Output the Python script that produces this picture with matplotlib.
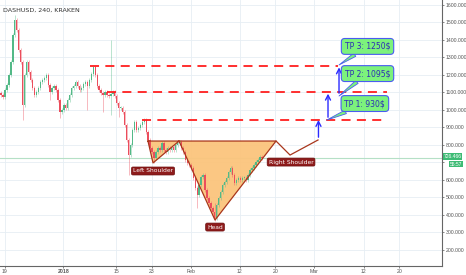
import numpy as np
import matplotlib
matplotlib.use("Agg")
import matplotlib.pyplot as plt

# closes (4h-ish candles, compressed), oldest first
closes = [
    1085, 1073, 1113, 1142, 1199, 1273, 1427, 1513, 1456, 1342, 1273, 1028, 1199, 1273,
    1216, 1170, 1125, 1085, 1102, 1125, 1159, 1170, 1182, 1199, 1142, 1102, 1125, 1136,
    1113, 1056, 988, 999, 1028, 1011, 1056, 1085, 1125, 1136, 1159, 1136, 1113, 1125,
    1148, 1159, 1136, 1170, 1205, 1245, 1199, 1136, 1113, 1096, 1085, 1102, 1085, 1079,
    1090, 1102, 1079, 1039, 1011, 1011, 988, 914, 828, 742, 799, 885, 931, 885,
    896, 914, 931, 942, 874, 828, 782, 759, 725, 759, 782, 771, 811, 771,
    759, 782, 771, 788, 771, 799, 811, 816, 782, 759, 714, 697, 685, 668,
    611, 554, 514, 571, 617, 628, 542, 497, 468, 440, 417, 383, 457, 497,
    531, 571, 588, 611, 645, 668, 628, 582, 600, 611, 600, 611, 611, 600,
    628, 657, 668, 685, 702, 714, 731, 726,
]
first_open = 1095
# notable wick extremes: index -> (low, high)
wick_extremes = {
    7: (1420, 1541), 11: (942, 1280), 25: (1056, 1150), 30: (953, 1060),
    44: (999, 1165), 52: (988, 1100), 56: (971, 1399), 60: (959, 1045),
    65: (628, 830), 78: (697, 765), 100: (440, 560), 109: (366, 470),
}
last_price = 726.466
countdown = "55:57"

# x axis: days relative to Feb 1 (bar-compressed like the source)
tick_days = [-42.1, -28.8, -16.8, -8.8, 0, 11.15, 19.15, 27.9, 39.15, 47.2]
tick_labels = ["19", "2018", "15", "23", "Feb", "12", "20", "Mar", "12", "20"]
price_ticks = list(range(200, 1700, 100))

# targets
tp_levels = [942, 1100, 1252]
tp_starts = [-11.0, -18.9, -22.8]
tp_ends = [43.5, 44.4, 33.3]
tp_texts = ["TP 1: 930$", "TP 2: 1095$", "TP 3: 1250$"]

# inverse head & shoulders drawing
hs_days = [-9.67, -8.53, -2.65, 5.5, 19.3]
hs_prices = [822, 697, 822, 371, 822]
rs_days = [19.3, 22.47, 28.8]
rs_prices = [822, 742, 828]

UP, DOWN = "#53b987", "#eb4d5c"
AXFONT = "Liberation Sans"

fig = plt.figure(figsize=(4.66, 2.75), dpi=100)
ax = fig.add_axes([0, 9 / 275, 442 / 466, 266 / 275])

n = len(closes)
xs = np.linspace(-42.9, 16.1, n)
opens = [first_open] + closes[:-1]
for i, (x, o, c) in enumerate(zip(xs, opens, closes)):
    col = UP if c >= o else DOWN
    lo, hi = min(o, c) - 10, max(o, c) + 10
    if i in wick_extremes:
        lo, hi = min(lo, wick_extremes[i][0]), max(hi, wick_extremes[i][1])
    ax.vlines(x, lo, hi, color=col, lw=0.5, alpha=0.55, zorder=3)
    ax.bar(x, max(abs(c - o), 3), bottom=min(o, c), width=0.3, color=col,
           lw=0, zorder=4)

ax.axhline(last_price, color="#b5e0c6", lw=0.8, zorder=1)

# head & shoulders
ax.fill(hs_days, hs_prices, color="#fbc47c", alpha=0.95, zorder=2, lw=0)
ax.plot(hs_days + [hs_days[0]], hs_prices + [hs_prices[0]], color="#a8361c",
        lw=0.9, zorder=5)
ax.plot(rs_days, rs_prices, color="#a8361c", lw=0.9, zorder=5)

lab = dict(color="white", fontsize=4.3, ha="center", va="center", zorder=8,
           bbox=dict(boxstyle="round,pad=0.25", fc="#8e1b1b", ec="#6d0f0f", lw=0.5))
ax.text(-8.53, 651, "Left Shoulder", **lab)
ax.text(5.5, 331, "Head", **lab)
ax.text(22.7, 702, "Right Shoulder", **lab)

# target lines
for lvl, x0, x1 in zip(tp_levels, tp_starts, tp_ends):
    ax.plot([x0, x1], [lvl, lvl], color="#ff1f1f", lw=1.3, ls=(0, (5, 3.5)), zorder=6)

# arrows
arrow_days = [28.9, 31.06, 33.55]
arrow_from = [828, 942, 1079]
arrow_to = [958, 1108, 1258]
for x, y0, y1 in zip(arrow_days, arrow_from, arrow_to):
    ax.annotate("", xy=(x, y1), xytext=(x, y0), zorder=7,
                arrowprops=dict(arrowstyle="->,head_length=0.35,head_width=0.18",
                                color="#2b2bff", lw=1.0))

# callouts
box_pos = [(39.4, 1036), (40.0, 1207), (40.0, 1362)]
tails = [(30.8, 942), (33.55, 1079), (33.55, 1256)]
for txt, (bx, by), tip in zip(tp_texts, box_pos, tails):
    ax.annotate(txt, xy=tip, xytext=(bx, by), ha="center", va="center",
                fontsize=5.5, color="#2d2db5", zorder=9,
                bbox=dict(boxstyle="round,pad=0.45", fc="#7cf27c", ec="#4a5cf0", lw=0.8),
                arrowprops=dict(arrowstyle="wedge,tail_width=0.5", fc="#7cf27c",
                                ec="#4a5cf0", lw=0.6, shrinkA=0, shrinkB=0))

# axes styling
ax.set_xlim(-43.15, 56.85)
ax.set_ylim(108.7, 1627)
ax.yaxis.tick_right()
ax.set_yticks(price_ticks)
# the 700 label sits under the live price tag, as on the source chart
ax.set_yticklabels(["" if v == 700 else f"{v:.3f}" for v in price_ticks], family=AXFONT)
ax.set_xticks(tick_days)
ax.set_xticklabels(tick_labels, family=AXFONT)
for t in ax.get_xticklabels():
    if t.get_text() == "2018":
        t.set_fontweight("bold")
ax.tick_params(axis="both", labelsize=3.7, colors="#555555", length=1.5, width=0.5,
               pad=1.0)
ax.grid(True, color="#e6eef4", lw=0.6, zorder=0)
ax.set_axisbelow(True)
for side in ["top", "left"]:
    ax.spines[side].set_visible(False)
for side in ["right", "bottom"]:
    ax.spines[side].set_color("#666666")
    ax.spines[side].set_linewidth(0.8)

ax.text(0.006, 0.972, "DASHUSD, 240, KRAKEN", transform=ax.transAxes,
        fontsize=4.6, color="#333333", va="top")

# price label on the axis
trans = ax.get_yaxis_transform()
ax.text(1.003, last_price + 8, f"{last_price:.3f}", transform=trans, fontsize=3.6,
        family=AXFONT, color="white", va="center", ha="left", clip_on=False, zorder=10,
        bbox=dict(boxstyle="square,pad=0.15", fc="#3dbb74", ec="none"))
ax.text(1.018, last_price - 36, countdown, transform=trans, fontsize=3.6,
        family=AXFONT, color="white", va="center", ha="left", clip_on=False, zorder=10,
        bbox=dict(boxstyle="square,pad=0.15", fc="#3dbb74", ec="none"))

fig.savefig("out.png", dpi=100)
